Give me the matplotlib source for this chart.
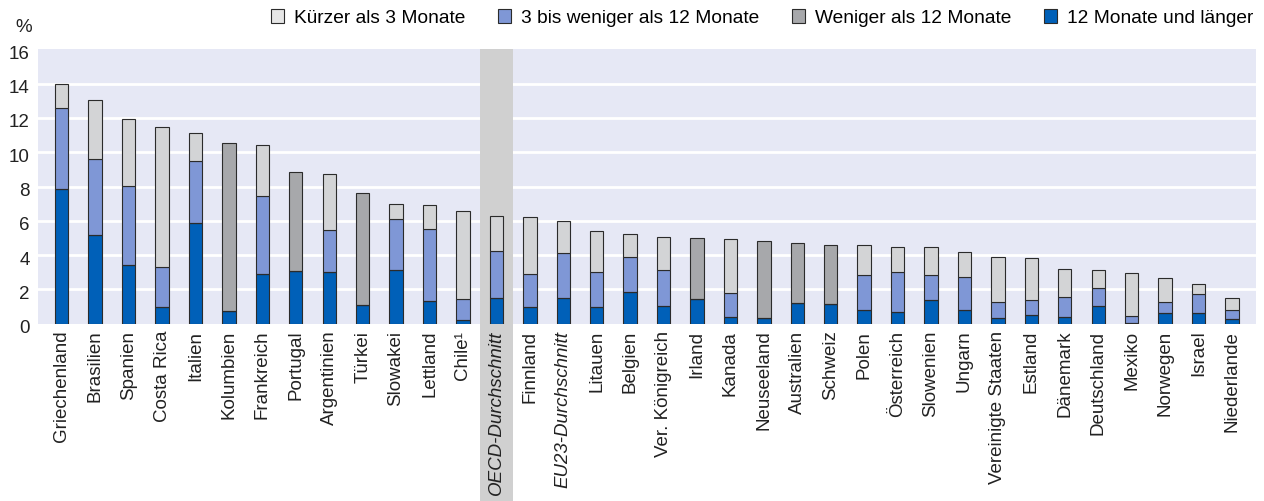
import numpy as np
import matplotlib
matplotlib.use("Agg")
import matplotlib.pyplot as plt
from matplotlib.patches import Patch, Rectangle
from matplotlib.transforms import blended_transform_factory, ScaledTranslation

plt.rcParams['font.family'] = ['Liberation Sans', 'DejaVu Sans']

countries = ["Griechenland", "Brasilien", "Spanien", "Costa Rica", "Italien", "Kolumbien",
             "Frankreich", "Portugal", "Argentinien", "Türkei", "Slowakei", "Lettland",
             "Chile¹", "OECD-Durchschnitt", "Finnland", "EU23-Durchschnitt", "Litauen",
             "Belgien", "Ver. Königreich", "Irland", "Kanada", "Neuseeland", "Australien",
             "Schweiz", "Polen", "Österreich", "Slowenien", "Ungarn", "Vereinigte Staaten",
             "Estland", "Dänemark", "Deutschland", "Mexiko", "Norwegen", "Israel", "Niederlande"]

# 12 Monate und länger
long_term = [7.85, 5.15, 3.40, 0.97, 5.86, 0.74, 2.91, 3.05, 2.99, 1.09, 3.15, 1.30,
             0.20, 1.48, 0.97, 1.50, 0.99, 1.83, 1.01, 1.46, 0.39, 0.35, 1.19, 1.13,
             0.78, 0.66, 1.36, 0.80, 0.31, 0.51, 0.39, 1.03, 0.06, 0.62, 0.62, 0.29]
# 3 bis weniger als 12 Monate
mid_term = [4.75, 4.45, 4.62, 2.33, 3.62, 0, 4.55, 0, 2.45, 0, 2.97, 4.25,
            1.22, 2.77, 1.91, 2.62, 2.04, 2.07, 2.10, 0, 1.38, 0, 0, 0,
            2.07, 2.35, 1.46, 1.90, 0.94, 0.87, 1.15, 1.05, 0.41, 0.63, 1.11, 0.51]
# Weniger als 12 Monate
under_12 = [0, 0, 0, 0, 0, 9.80, 0, 5.82, 0, 6.56, 0, 0,
            0, 0, 0, 0, 0, 0, 0, 3.51, 0, 4.45, 3.53, 3.47,
            0, 0, 0, 0, 0, 0, 0, 0, 0, 0, 0, 0]
# Kürzer als 3 Monate
short_term = [1.40, 3.43, 3.92, 8.16, 1.65, 0, 2.97, 0, 3.30, 0, 0.87, 1.38,
              5.16, 2.02, 3.32, 1.84, 2.39, 1.31, 1.92, 0, 3.18, 0, 0, 0,
              1.75, 1.47, 1.68, 1.48, 2.62, 2.46, 1.66, 1.03, 2.48, 1.43, 0.58, 0.68]

c_long = "#0060b8"
c_mid = "#7f97d6"
c_u12 = "#a7a8ab"
c_short = "#d3d4d6"
edge = "#2b2b2b"

fig = plt.figure(figsize=(12.64, 5.01), dpi=100)
ax = fig.add_axes([38 / 1264, 1 - 323.7 / 501, (1255.7 - 38) / 1264, (323.7 - 49.3) / 501])
ax.set_facecolor("#e6e8f5")

x = np.arange(len(countries))
long_a = np.array(long_term)
mid_a = np.array(mid_term)
u12_a = np.array(under_12)
short_a = np.array(short_term)

w = 0.4
kw = dict(width=w, edgecolor=edge, linewidth=0.8, zorder=2)
ax.bar(x, long_a, color=c_long, **kw)
ax.bar(x, mid_a, bottom=long_a, color=c_mid, **kw)
ax.bar(x, u12_a, bottom=long_a, color=c_u12, **kw)
ax.bar(x, short_a, bottom=long_a + mid_a, color=c_short, **kw)

# gridlines drawn by hand so the highlight band can sit above them
for yv in range(2, 16, 2):
    ax.axhline(yv, color="white", linewidth=2, zorder=0.3)

# highlight the OECD average column, reaching down through the labels
i_oecd = countries.index("OECD-Durchschnitt")
trans = blended_transform_factory(ax.transData, ax.transAxes)
ax.add_patch(Rectangle((i_oecd - 0.5, -0.66), 1.0, 1.66, transform=trans,
                       facecolor="#d0d0d0", edgecolor="none", clip_on=False, zorder=0.6))

ax.set_xlim(-0.71, len(countries) - 0.29)
ax.set_ylim(0, 16)
ax.set_yticks(range(0, 17, 2))
ax.set_xticks(x)
ax.set_xticklabels(countries, rotation=90, fontsize=13.5)
for lbl in ax.get_xticklabels():
    if "Durchschnitt" in lbl.get_text():
        lbl.set_fontstyle("italic")
ax.tick_params(axis="x", length=0, pad=5, colors="#222222")
ax.tick_params(axis="y", length=0, pad=6, labelsize=13.5, colors="#222222")
shift = ScaledTranslation(0, -3 / 100, fig.dpi_scale_trans)
for lbl in ax.get_yticklabels():
    lbl.set_transform(lbl.get_transform() + shift)
for s in ax.spines.values():
    s.set_visible(False)

fig.text(24 / 1264, 1 - 28 / 501, "%", ha="center", va="center", fontsize=13.5, color="#222222")

handles = [Patch(facecolor="#e6e6e6", edgecolor=edge, linewidth=0.8),
           Patch(facecolor=c_mid, edgecolor=edge, linewidth=0.8),
           Patch(facecolor=c_u12, edgecolor=edge, linewidth=0.8),
           Patch(facecolor=c_long, edgecolor=edge, linewidth=0.8)]
labels = ["Kürzer als 3 Monate", "3 bis weniger als 12 Monate",
          "Weniger als 12 Monate", "12 Monate und länger"]
fig.legend(handles, labels, ncol=4, loc="center right",
           bbox_to_anchor=(1253 / 1264, 1 - 18 / 501), frameon=False,
           fontsize=13.8, handlelength=0.7, handleheight=0.7, handletextpad=0.5,
           columnspacing=1.7, borderpad=0, borderaxespad=0)

fig.savefig("out.png", dpi=100)
